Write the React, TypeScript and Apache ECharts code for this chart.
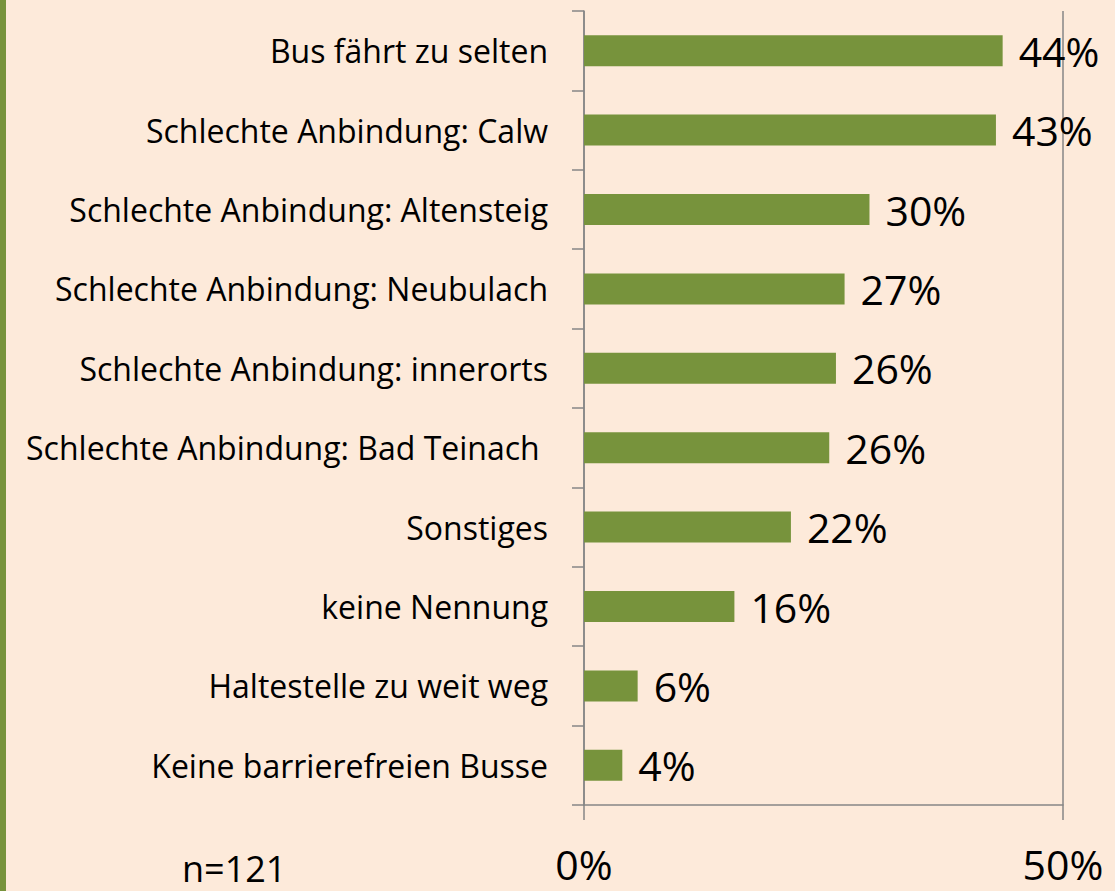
import React, { useEffect, useRef } from "react";
import * as echarts from "echarts";

const categories = [
  "Bus fährt zu selten",
  "Schlechte Anbindung: Calw",
  "Schlechte Anbindung: Altensteig",
  "Schlechte Anbindung: Neubulach",
  "Schlechte Anbindung: innerorts",
  "Schlechte Anbindung: Bad Teinach ",
  "Sonstiges",
  "keine Nennung",
  "Haltestelle zu weit weg",
  "Keine barrierefreien Busse",
];
const values = [43.7, 43.0, 29.8, 27.2, 26.3, 25.6, 21.6, 15.7, 5.6, 4.0];
const valueLabels = ["44%", "43%", "30%", "27%", "26%", "26%", "22%", "16%", "6%", "4%"];
const xTicks = ["0%", "50%"];
const sampleNote = "n=121";

const FONT = "'Open Sans', 'Noto Sans', sans-serif";

export default function App() {
  const ref = useRef<HTMLDivElement>(null);
  useEffect(() => {
    if (!ref.current) return;
    const chart = echarts.init(ref.current, undefined, { renderer: "svg" });
    chart.setOption({
      animation: false,
      backgroundColor: "#FDEADA",
      textStyle: { fontFamily: FONT },
      grid: { left: 584, top: 11, right: 52, bottom: 86, containLabel: false },
      xAxis: {
        type: "value",
        min: 0,
        max: 50,
        interval: 50,
        axisLine: { show: true, lineStyle: { color: "#868686", width: 1.5 } },
        axisTick: { show: true, length: 15, lineStyle: { color: "#868686", width: 1.5 } },
        splitLine: { show: true, lineStyle: { color: "#868686", width: 1.5 } },
        axisLabel: {
          color: "#000",
          fontSize: 41,
          fontFamily: FONT,
          margin: 38,
          formatter: (v: number) => xTicks[Math.round(v / 50)] ?? "",
        },
      },
      yAxis: {
        type: "category",
        inverse: true,
        data: categories,
        axisLine: { show: true, lineStyle: { color: "#868686", width: 1.5 } },
        axisTick: { show: true, length: 12, inside: false, lineStyle: { color: "#868686", width: 1.5 } },
        axisLabel: { color: "#000", fontSize: 32, fontFamily: FONT, margin: 36 },
        splitLine: { show: false },
      },
      series: [
        {
          type: "bar",
          data: values,
          barWidth: 31,
          itemStyle: { color: "#77933C" },
          label: {
            show: true,
            position: "right",
            distance: 16,
            color: "#000",
            fontSize: 41,
            fontFamily: FONT,
            formatter: (p: any) => valueLabels[p.dataIndex],
          },
        },
      ],
      graphic: [
        { type: "rect", left: 0, top: 0, shape: { width: 6, height: 891 }, style: { fill: "#77933C" } },
        {
          type: "text",
          left: 182,
          top: 850,
          style: { text: sampleNote, fontSize: 36, fill: "#000", fontFamily: FONT },
        },
      ],
    });
    return () => chart.dispose();
  }, []);
  return <div ref={ref} style={{ width: 1115, height: 891, position: "absolute", left: 0, top: 0 }} />;
}
